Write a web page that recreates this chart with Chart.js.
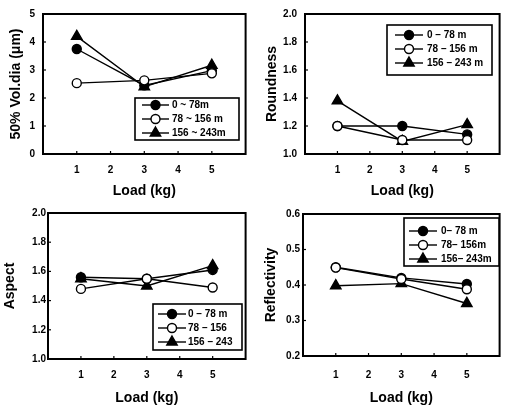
<!DOCTYPE html>
<html><head><meta charset="utf-8">
<script src="https://cdn.jsdelivr.net/npm/chart.js@4/dist/chart.umd.min.js"></script>
<style>
body{margin:0;background:#fff;width:507px;height:407px;position:relative;overflow:hidden}
canvas{position:absolute}
</style>
</head><body>
<canvas id="c1" width="253" height="200" style="left:0;top:0"></canvas>
<canvas id="c2" width="254" height="200" style="left:253px;top:0"></canvas>
<canvas id="c3" width="253" height="207" style="left:0;top:200px"></canvas>
<canvas id="c4" width="254" height="207" style="left:253px;top:200px"></canvas>
<script>
// ---------- data ----------
const loads = [1, 3, 5];
const xTickLabels = [1, 2, 3, 4, 5];

const diaLabels = ['0 ~ 78m', '78 ~ 156 m', '156 ~ 243m'];
const dia_0_78 = [3.75, 2.45, 2.98];
const dia_78_156 = [2.53, 2.63, 2.88];
const dia_156_243 = [4.2, 2.4, 3.17];
const diaTicks = [0, 1, 2, 3, 4, 5];

const roundLabels = ['0 – 78 m', '78 – 156 m', '156 – 243 m'];
const round_0_78 = [1.2, 1.2, 1.14];
const round_78_156 = [1.2, 1.1, 1.1];
const round_156_243 = [1.38, 1.09, 1.21];
const roundTicks = [1.0, 1.2, 1.4, 1.6, 1.8, 2.0];

const aspectLabels = ['0 – 78 m', '78 – 156', '156 – 243'];
const aspect_0_78 = [1.56, 1.55, 1.61];
const aspect_78_156 = [1.48, 1.55, 1.49];
const aspect_156_243 = [1.55, 1.5, 1.64];
const aspectTicks = [1.0, 1.2, 1.4, 1.6, 1.8, 2.0];

const reflLabels = ['0– 78 m', '78– 156m', '156– 243m'];
const refl_0_78 = [0.45, 0.42, 0.403];
const refl_78_156 = [0.449, 0.417, 0.388];
const refl_156_243 = [0.398, 0.404, 0.348];
const reflTicks = [0.2, 0.3, 0.4, 0.5, 0.6];

// ---------- drawing ----------
const FONT = "'Liberation Sans', Arial, sans-serif";
const styles = [
  {pointStyle: 'circle', pointRadius: 4.5, pointBackgroundColor: '#000', order: 1},
  {pointStyle: 'circle', pointRadius: 4.5, pointBackgroundColor: '#fff', order: 0},
  {pointStyle: 'triangle', pointRadius: 6, pointBackgroundColor: '#000', order: 2}
];

function mkDatasets(labels, arrays) {
  return arrays.map((arr, i) => Object.assign({
    label: labels[i],
    data: loads.map((x, j) => ({x: x, y: arr[j]})),
    borderColor: '#000', borderWidth: 1.4,
    pointBorderColor: '#000', pointBorderWidth: 1.4,
    tension: 0
  }, styles[i]));
}

const framePlugin = {
  id: 'frame',
  afterDatasetsDraw(chart, args, o) {
    const ctx = chart.ctx, a = chart.chartArea;
    ctx.save();
    ctx.strokeStyle = '#000';
    ctx.lineWidth = 2;
    ctx.strokeRect(a.left, a.top, a.right - a.left, a.bottom - a.top);
    ctx.lineWidth = 1.2;
    const xs = chart.scales.x, ys = chart.scales.y;
    xs.ticks.forEach(t => {
      const px = xs.getPixelForValue(t.value);
      ctx.beginPath(); ctx.moveTo(px, a.bottom); ctx.lineTo(px, a.bottom - 3); ctx.stroke();
    });
    ys.ticks.forEach(t => {
      const py = ys.getPixelForValue(t.value);
      ctx.beginPath(); ctx.moveTo(a.left, py); ctx.lineTo(a.left + 3, py); ctx.stroke();
    });
    // legend box
    const L = o.box;
    if (L) {
      ctx.fillStyle = '#fff';
      ctx.fillRect(L.x, L.y, L.w, L.h);
      ctx.lineWidth = 1.6;
      ctx.strokeRect(L.x, L.y, L.w, L.h);
      ctx.font = "bold 10px " + FONT;
      ctx.textBaseline = 'middle';
      chart.data.datasets.forEach((ds, i) => {
        const y = L.y + L.rows[i];
        ctx.strokeStyle = '#000'; ctx.lineWidth = 1.4;
        ctx.beginPath(); ctx.moveTo(L.x + L.s0, y); ctx.lineTo(L.x + L.s1, y); ctx.stroke();
        ctx.fillStyle = ds.pointBackgroundColor;
        Chart.helpers.drawPoint(ctx, {pointStyle: ds.pointStyle, radius: ds.pointRadius, rotation: 0, borderWidth: 1.4}, L.x + (L.s0 + L.s1) / 2, y);
        ctx.fillStyle = '#000';
        ctx.fillText(ds.label, L.x + L.tx, y);
      });
    }
    ctx.restore();
  }
};

function makeChart(id, cfg) {
  new Chart(document.getElementById(id), {
    type: 'line',
    data: {datasets: mkDatasets(cfg.labels, cfg.series)},
    options: {
      responsive: false, animation: false, devicePixelRatio: 1,
      layout: {padding: {top: cfg.padTop, right: cfg.padRight, left: 0, bottom: 0}},
      plugins: {legend: {display: false}, tooltip: {enabled: false}, frame: {box: cfg.box}},
      scales: {
        x: {
          type: 'linear', min: 0, max: 6,
          afterBuildTicks: s => { s.ticks = xTickLabels.map(v => ({value: v})); },
          afterFit: s => { s.height = cfg.xH; },
          grid: {display: false, drawTicks: false}, border: {display: false},
          ticks: {color: '#000', font: {family: FONT, size: 10, weight: 'bold'}, padding: cfg.xPad, maxRotation: 0, autoSkip: false},
          title: {display: true, text: 'Load (kg)', color: '#000', font: {family: FONT, size: 14, weight: 'bold'}, padding: {top: 0, bottom: 0}}
        },
        y: {
          type: 'linear', min: cfg.yTicks[0], max: cfg.yTicks[cfg.yTicks.length - 1],
          afterBuildTicks: s => { s.ticks = cfg.yTicks.map(v => ({value: v})); },
          afterFit: s => { s.width = cfg.yW; },
          grid: {display: false, drawTicks: false}, border: {display: false},
          ticks: {color: '#000', font: {family: FONT, size: 10, weight: 'bold'}, padding: cfg.yPad,
                  callback: v => cfg.dec ? Number(v).toFixed(1) : String(v)},
          title: {display: true, text: cfg.yTitle, color: '#000', font: {family: FONT, size: 14, weight: 'bold'}, padding: {top: cfg.yTitlePad, bottom: 0}}
        }
      }
    },
    plugins: [framePlugin]
  });
}

makeChart('c1', {labels: diaLabels, series: [dia_0_78, dia_78_156, dia_156_243], yTicks: diaTicks, dec: false,
  yTitle: '50% Vol.dia (μm)', padTop: 10, padRight: 3, xH: 46, yW: 43, xPad: 10, yPad: 8, yTitlePad: 8,
  box: {x: 135, y: 98, w: 104, h: 42, rows: [7, 21, 35], s0: 7, s1: 34, tx: 37}});
makeChart('c2', {labels: roundLabels, series: [round_0_78, round_78_156, round_156_243], yTicks: roundTicks, dec: true,
  yTitle: 'Roundness', padTop: 8, padRight: 1, xH: 46, yW: 52, xPad: 10, yPad: 8, yTitlePad: 11,
  box: {x: 134, y: 25, w: 105, h: 50, rows: [10, 24, 38], s0: 8, s1: 36, tx: 40}});
makeChart('c3', {labels: aspectLabels, series: [aspect_0_78, aspect_78_156, aspect_156_243], yTicks: aspectTicks, dec: true,
  yTitle: 'Aspect', padTop: 13, padRight: 3, xH: 48, yW: 48, xPad: 10, yPad: 2, yTitlePad: 2,
  box: {x: 153, y: 104, w: 89, h: 46, rows: [10, 24, 38], s0: 5, s1: 33, tx: 35}});
makeChart('c4', {labels: reflLabels, series: [refl_0_78, refl_78_156, refl_156_243], yTicks: reflTicks, dec: true,
  yTitle: 'Reflectivity', padTop: 14, padRight: 1, xH: 51, yW: 50, xPad: 13, yPad: 3, yTitlePad: 10,
  box: {x: 151, y: 18, w: 95, h: 48, rows: [13, 27, 41], s0: 5, s1: 33, tx: 37}});
</script>
</body></html>
